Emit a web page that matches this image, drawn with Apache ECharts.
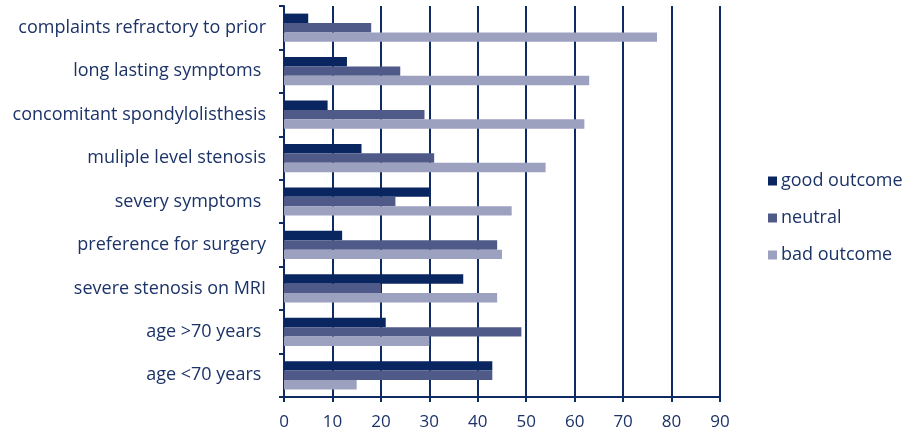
<!DOCTYPE html>
<html>
<head>
<meta charset="utf-8">
<script src="https://cdn.jsdelivr.net/npm/echarts@6/dist/echarts.min.js"></script>
<style>
  html, body { margin: 0; padding: 0; background: #ffffff; }
  #chart { width: 913px; height: 433px; }
</style>
</head>
<body>
<div id="chart"></div>
<script>
// Predictors, listed top to bottom
const categories = [
  'complaints refractory to prior',
  'long lasting symptoms ',
  'concomitant spondylolisthesis',
  'muliple level stenosis',
  'severy symptoms ',
  'preference for surgery',
  'severe stenosis on MRI',
  'age >70 years ',
  'age <70 years '
];

// Percentages per outcome group
const goodOutcome = [5, 13, 9, 16, 30, 12, 37, 21, 43];
const neutral     = [18, 24, 29, 31, 23, 44, 20, 49, 43];
const badOutcome  = [77, 63, 62, 54, 47, 45, 44, 30, 15];

const xTicks = [0, 10, 20, 30, 40, 50, 60, 70, 80, 90];

const navy = '#0d2a63';
const textColor = '#1c3368';
const fontFamily = '"Open Sans", "Noto Sans", sans-serif';

const chart = echarts.init(document.getElementById('chart'), null, { renderer: 'canvas' });

chart.setOption({
  animation: false,
  textStyle: { fontFamily: fontFamily },
  color: ['#0a2660', '#4f5a88', '#9da1c0'],
  grid: { left: 284, right: 193, top: 6, bottom: 36, containLabel: false },
  legend: {
    orient: 'vertical',
    left: 763,
    top: 167,
    itemWidth: 9,
    itemHeight: 9,
    itemGap: 19,
    icon: 'rect',
    textStyle: { color: textColor, fontSize: 18, fontFamily: fontFamily, padding: [0, 0, 0, -1] },
    data: ['good outcome', 'neutral', 'bad outcome']
  },
  xAxis: {
    type: 'value',
    min: xTicks[0],
    max: xTicks[xTicks.length - 1],
    interval: 10,
    axisLine: { show: true, lineStyle: { color: navy, width: 2 } },
    axisTick: { show: true, inside: false, length: 5, lineStyle: { color: navy, width: 2 } },
    axisLabel: { color: textColor, fontSize: 17, margin: 17, fontFamily: fontFamily },
    splitLine: { show: true, lineStyle: { color: navy, width: 2 } }
  },
  yAxis: {
    type: 'category',
    inverse: true,
    data: categories,
    axisLine: { show: true, lineStyle: { color: navy, width: 2 } },
    axisTick: { show: true, length: 5, lineStyle: { color: navy, width: 2 } },
    axisLabel: { color: textColor, fontSize: 18, margin: 18, fontFamily: fontFamily },
    splitLine: { show: false }
  },
  series: [
    { name: 'good outcome', type: 'bar', data: goodOutcome, barGap: '0%', barCategoryGap: '35%' },
    { name: 'neutral', type: 'bar', data: neutral, barGap: '0%', barCategoryGap: '35%' },
    { name: 'bad outcome', type: 'bar', data: badOutcome, barGap: '0%', barCategoryGap: '35%' }
  ]
});
</script>
</body>
</html>
